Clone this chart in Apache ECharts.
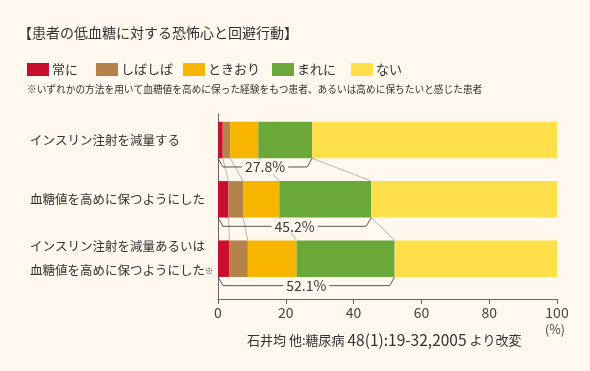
<!DOCTYPE html>
<html>
<head>
<meta charset="utf-8">
<script src="https://cdn.jsdelivr.net/npm/echarts@6/dist/echarts.min.js"></script>
<style>
  html, body { margin: 0; padding: 0; background: #fef8ee; }
  #chart { width: 590px; height: 371px; }
</style>
</head>
<body>
<div id="chart"></div>
<script>
// 行（上から）
const categories = [
  'インスリン注射を減量する',
  '血糖値を高めに保つようにした',
  'インスリン注射を減量あるいは\n血糖値を高めに保つようにした※'
];
const seriesNames = ['常に', 'しばしば', 'ときおり', 'まれに', 'ない'];
// 各頻度の割合（%）
const always    = [1.4, 3.1, 3.4];
const often     = [2.2, 4.3, 5.4];
const sometimes = [8.3, 10.7, 14.4];
const rarely    = [15.9, 27.1, 28.9];
const never     = [72.2, 54.8, 47.9];
const xTicks = [0, 20, 40, 60, 80, 100];

const colors = ['#c8102e', '#b5834a', '#f8b500', '#6aa83a', '#ffdf4a'];
const font = '"Noto Sans CJK JP", sans-serif';
const halfBar = 18.25;
const valueRows = [always, often, sometimes, rarely, never];

// 累積値（区切り線・括弧用）
const cum = categories.map((c, i) => {
  let s = 0;
  return valueRows.slice(0, 4).map(arr => +(s += arr[i]).toFixed(1));
});

const connectorData = [];
for (let i = 0; i < categories.length - 1; i++) {
  for (let k = 0; k < 4; k++) {
    connectorData.push([cum[i][k], i, cum[i + 1][k], i + 1]);
  }
}
const bracketData = cum.map((c, i) => [c[3], i]);

const chart = echarts.init(document.getElementById('chart'));

const legendLeft = [27, 96, 183, 272, 351];

chart.setOption({
  backgroundColor: '#fef8ee',
  animation: false,
  textStyle: { fontFamily: font },
  title: [
    {
      text: '【患者の低血糖に対する恐怖心と回避行動】',
      left: 18, top: 26, padding: 0,
      textStyle: { fontFamily: font, fontSize: 14, fontWeight: 'normal', color: '#333' }
    },
    {
      text: '※いずれかの方法を用いて血糖値を高めに保った経験をもつ患者、あるいは高めに保ちたいと感じた患者',
      left: 27, top: 84, padding: 0,
      textStyle: { fontFamily: font, fontSize: 9.7, fontWeight: 'normal', color: '#333' }
    },
    {
      text: '(%)',
      left: 545, top: 323, padding: 0,
      textStyle: { fontFamily: font, fontSize: 12.5, fontWeight: 'normal', color: '#444' }
    },
    {
      text: '{a|石井均 他:糖尿病 }{b|48(1):19-32,2005}{a| より改変}',
      left: 247, top: 332, padding: 0,
      textStyle: {
        fontWeight: 'normal',
        rich: {
          a: { fontFamily: font, fontSize: 13, fontWeight: 'normal', color: '#333' },
          b: { fontFamily: font, fontSize: 15.5, fontWeight: 'normal', color: '#333' }
        }
      }
    }
  ],
  legend: seriesNames.map((name, i) => ({
    data: [name],
    left: legendLeft[i], top: 63, padding: 0,
    icon: 'rect', itemWidth: 22, itemHeight: 13, itemGap: 0,
    textStyle: { fontFamily: font, fontSize: 13, color: '#333', padding: [0, 0, 0, -2] }
  })),
  grid: [
    { left: 218, right: 33, top: 110.35, bottom: 82.65 },
    { left: 218, right: 33, top: 114, bottom: 72 }
  ],
  xAxis: [
    { gridIndex: 0, type: 'value', min: 0, max: 100, show: false },
    {
      gridIndex: 1, type: 'value', min: 0, max: 100, interval: 20,
      axisLine: { show: true, lineStyle: { color: '#666' } },
      axisTick: { show: true, length: 5, lineStyle: { color: '#666' } },
      splitLine: { show: false },
      axisLabel: {
        margin: 7, fontFamily: font, fontSize: 14, color: '#444',
        formatter: v => xTicks.includes(v) ? String(v) : ''
      }
    }
  ],
  yAxis: [
    {
      gridIndex: 0, type: 'category', data: categories, inverse: true,
      axisLine: { show: false }, axisTick: { show: false },
      axisLabel: {
        align: 'left', margin: 188, fontFamily: font, fontSize: 12.5, color: '#333',
        lineHeight: 24,
        formatter: v => v.replace('※', '{s|※}'),
        rich: { s: { fontSize: 8, color: '#333', lineHeight: 24, verticalAlign: 'middle' } }
      }
    },
    {
      gridIndex: 1, type: 'value', min: 0, max: 1,
      axisLine: { show: true, lineStyle: { color: '#666' } },
      axisTick: { show: false }, axisLabel: { show: false }, splitLine: { show: false }
    }
  ],
  series: [
    ...seriesNames.map((name, i) => ({
      name, type: 'bar', stack: 'total',
      xAxisIndex: 0, yAxisIndex: 0,
      barWidth: halfBar * 2,
      itemStyle: { color: colors[i] },
      data: valueRows[i],
      z: 2
    })),
    {
      type: 'custom', name: 'connector',
      xAxisIndex: 0, yAxisIndex: 0,
      encode: { x: [0, 2], y: [1, 3] },
      data: connectorData,
      z: 3,
      renderItem: (params, api) => {
        const p1 = api.coord([api.value(0), api.value(1)]);
        const p2 = api.coord([api.value(2), api.value(3)]);
        return {
          type: 'line',
          shape: { x1: p1[0], y1: p1[1] + halfBar, x2: p2[0], y2: p2[1] - halfBar },
          style: { stroke: '#a8a39a', lineWidth: 0.8 }
        };
      }
    },
    {
      type: 'custom', name: 'bracket',
      xAxisIndex: 0, yAxisIndex: 0,
      encode: { x: 0, y: 1 },
      data: bracketData,
      z: 4,
      renderItem: (params, api) => {
        const p0 = api.coord([0, api.value(1)]);
        const p1 = api.coord([api.value(0), api.value(1)]);
        const yb = p0[1] + halfBar;
        const d = 8.7, inset = 5;
        return {
          type: 'group',
          children: [
            {
              type: 'polyline',
              shape: { points: [[p0[0], yb], [p0[0] + inset, yb + d], [p1[0] - inset, yb + d], [p1[0], yb]] },
              style: { stroke: '#555', lineWidth: 1, fill: null }
            },
            {
              type: 'text',
              style: {
                x: (p0[0] + p1[0]) / 2, y: yb + d,
                text: api.value(0).toFixed(1) + '%',
                align: 'center', verticalAlign: 'middle',
                font: '14px "Noto Sans CJK JP", sans-serif',
                fill: '#3a3a3a',
                backgroundColor: '#fef8ee',
                padding: [0, 3]
              }
            }
          ]
        };
      }
    }
  ]
});
</script>
</body>
</html>
